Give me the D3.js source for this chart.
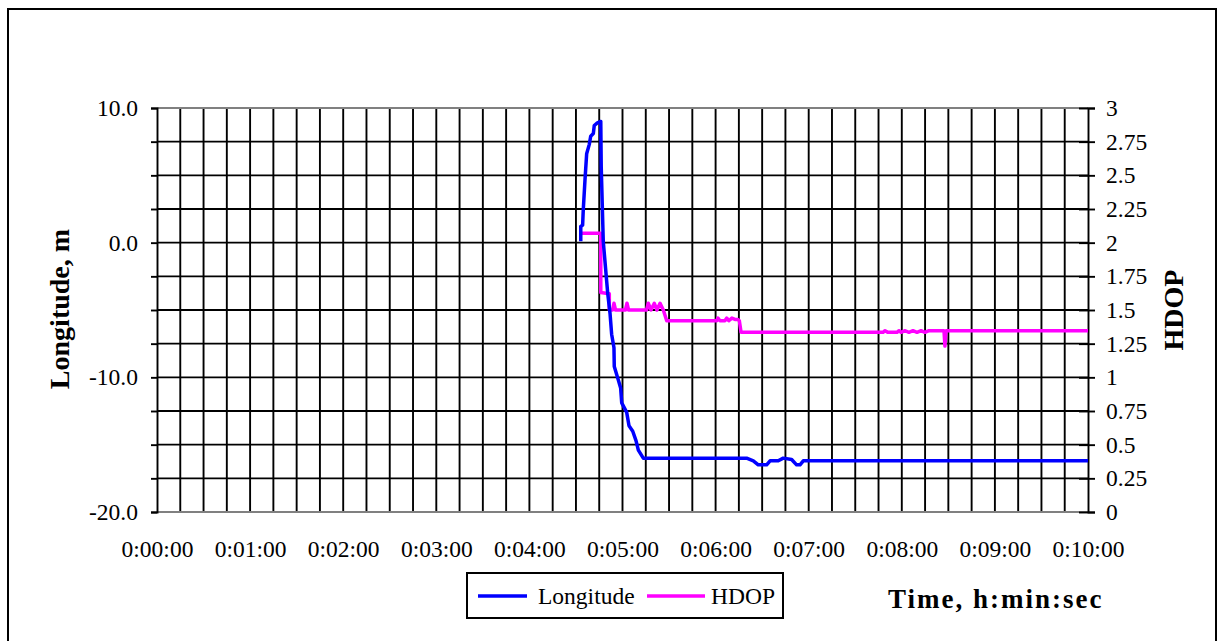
<!DOCTYPE html>
<html>
<head>
<meta charset="utf-8">
<script src="https://cdn.jsdelivr.net/npm/d3@7"></script>
<style>
  html, body { margin: 0; padding: 0; background: #fff; }
  svg { display: block; }
  text { font-family: "Liberation Serif", "Times New Roman", serif; fill: #000; }
</style>
</head>
<body>
<svg id="chart" width="1217" height="641"></svg>
<script>
// ---- Data (time in seconds from 0:00:00) ----
const lonTime = [273.1, 273.1, 274.3, 274.7, 275.8, 276.9, 278.6, 279.5, 281.2, 281.8, 283.8, 286.0, 286.3, 287.6, 290.5, 292.0, 293.0, 294.5, 294.7, 297.3, 298.8, 299.5, 302.7, 304.2, 306.6, 308.7, 310.2, 313.4, 376.8, 380.0, 384.3, 387.5, 392.9, 395.1, 400.4, 403.6, 409.0, 412.2, 414.4, 416.5, 600];
const lonValue = [0.1, 1.2, 1.3, 2.4, 4.6, 6.6, 7.3, 7.9, 8.1, 8.7, 8.9, 9.0, 5.6, 0.1, -3.8, -5.3, -6.8, -7.8, -9.2, -10.2, -10.8, -11.9, -12.6, -13.6, -14.0, -14.7, -15.4, -16.0, -16.0, -16.0, -16.2, -16.5, -16.5, -16.2, -16.2, -16.0, -16.1, -16.5, -16.5, -16.2, -16.2];

const hdopTime = [273.7, 286.0, 286.0, 291.5, 291.5, 293.6, 294.5, 295.5, 301.9, 302.9, 303.9, 315.5, 316.6, 318.4, 320.5, 322.2, 324.2, 326.3, 328.5, 360.7, 361.5, 362.8, 366.0, 367.2, 368.5, 370.5, 372.5, 374.4, 375.3, 376.4, 467.9, 469.2, 471.1, 476.9, 478.2, 479.5, 482.2, 484.6, 487.2, 489.8, 492.4, 494.9, 497.5, 507.2, 507.8, 508.5, 600];
const hdopValue = [2.07, 2.07, 1.63, 1.62, 1.50, 1.50, 1.55, 1.50, 1.50, 1.55, 1.50, 1.50, 1.55, 1.50, 1.55, 1.50, 1.55, 1.50, 1.42, 1.42, 1.44, 1.42, 1.42, 1.44, 1.42, 1.44, 1.43, 1.43, 1.42, 1.334, 1.334, 1.346, 1.334, 1.334, 1.346, 1.334, 1.346, 1.334, 1.346, 1.334, 1.346, 1.334, 1.346, 1.345, 1.232, 1.345, 1.345];

const timeTickSec = [0, 60, 120, 180, 240, 300, 360, 420, 480, 540, 600];
const timeTickLabels = ["0:00:00", "0:01:00", "0:02:00", "0:03:00", "0:04:00", "0:05:00", "0:06:00", "0:07:00", "0:08:00", "0:09:00", "0:10:00"];
const leftTicks = [-20, -17.5, -15, -12.5, -10, -7.5, -5, -2.5, 0, 2.5, 5, 7.5, 10];
const leftTickLabels = ["-20.0", "", "", "", "-10.0", "", "", "", "0.0", "", "", "", "10.0"];
const rightTicks = [0, 0.25, 0.5, 0.75, 1, 1.25, 1.5, 1.75, 2, 2.25, 2.5, 2.75, 3];
const rightTickLabels = ["0", "0.25", "0.5", "0.75", "1", "1.25", "1.5", "1.75", "2", "2.25", "2.5", "2.75", "3"];
const gridTimes = d3.range(15, 600, 15);

const seriesNames = ["Longitude", "HDOP"];
const seriesColors = ["#0000ff", "#ff00ff"];

// ---- Layout ----
const L = 157, R = 1088, T = 108, B = 512;
const svg = d3.select("#chart");

// outer frame
svg.append("rect").attr("x", 8).attr("y", 9).attr("width", 1208).attr("height", 700)
  .attr("fill", "#fff").attr("stroke", "#000").attr("stroke-width", 2);

const x = d3.scaleLinear().domain([0, 600]).range([L, R]);
const yL = d3.scaleLinear().domain([-20, 10]).range([B, T]);
const yR = d3.scaleLinear().domain([0, 3]).range([B, T]);

// gridlines
const grid = svg.append("g").attr("stroke", "#000").attr("stroke-width", 1.9);
grid.selectAll("line.v").data(gridTimes).join("line")
  .attr("x1", d => x(d)).attr("x2", d => x(d)).attr("y1", T).attr("y2", B);
grid.selectAll("line.h").data(leftTicks.filter(d => d > -20 && d < 10)).join("line")
  .attr("x1", L).attr("x2", R).attr("y1", d => yL(d)).attr("y2", d => yL(d));

// plot top/bottom border (gray)
svg.append("line").attr("x1", L).attr("x2", R).attr("y1", T).attr("y2", T)
  .attr("stroke", "#808080").attr("stroke-width", 2);
svg.append("line").attr("x1", L).attr("x2", R).attr("y1", B).attr("y2", B)
  .attr("stroke", "#808080").attr("stroke-width", 2);

// axes
const fontSize = "23.5px";
const axL = svg.append("g").attr("transform", `translate(${L},0)`)
  .call(d3.axisLeft(yL).tickValues(leftTicks).tickSize(6).tickPadding(13)
    .tickFormat((d, i) => leftTickLabels[i]));
const axR = svg.append("g").attr("transform", `translate(${R},0)`)
  .call(d3.axisRight(yR).tickValues(rightTicks).tickSize(7).tickPadding(11)
    .tickFormat((d, i) => rightTickLabels[i]));
axR.selectAll(".tick line").attr("x1", -9);
const axB = svg.append("g").attr("transform", `translate(0,${B})`)
  .call(d3.axisBottom(x).tickValues(timeTickSec).tickSize(0).tickPadding(28)
    .tickFormat((d, i) => timeTickLabels[i]));
axB.select(".domain").remove();
[axL, axR, axB].forEach(a => {
  a.selectAll("text").style("font-family", '"Liberation Serif", serif').style("font-size", fontSize).attr("fill", "#000");
  a.selectAll("line").attr("stroke", "#000").attr("stroke-width", 1.9);
  a.select(".domain").attr("stroke", "#000").attr("stroke-width", 1.9);
});

// series
const lineL = d3.line().x(d => x(d[0])).y(d => yL(d[1]));
const lineR = d3.line().x(d => x(d[0])).y(d => yR(d[1]));
svg.append("path").datum(hdopTime.map((t, i) => [t, hdopValue[i]]))
  .attr("d", lineR).attr("fill", "none").attr("stroke", seriesColors[1]).attr("stroke-width", 3.5)
  .attr("stroke-linejoin", "round");
svg.append("path").datum(lonTime.map((t, i) => [t, lonValue[i]]))
  .attr("d", lineL).attr("fill", "none").attr("stroke", seriesColors[0]).attr("stroke-width", 3.5)
  .attr("stroke-linejoin", "round");

// axis titles
svg.append("text").attr("transform", "translate(69,309) rotate(-90)")
  .attr("text-anchor", "middle").style("font-size", "28px").style("font-weight", "bold")
  .text("Longitude, m");
svg.append("text").attr("transform", "translate(1183,310) rotate(-90)")
  .attr("text-anchor", "middle").style("font-size", "28px").style("font-weight", "bold")
  .text("HDOP");
svg.append("text").attr("x", 888).attr("y", 608)
  .style("font-size", "27px").style("font-weight", "bold").style("letter-spacing", "2px")
  .text("Time, h:min:sec");

// legend
const lg = svg.append("g");
lg.append("rect").attr("x", 467).attr("y", 573).attr("width", 316).attr("height", 45)
  .attr("fill", "#fff").attr("stroke", "#000").attr("stroke-width", 2);
const legendItems = [{x1: 478, x2: 527, tx: 538}, {x1: 647, x2: 705, tx: 711}];
legendItems.forEach((it, i) => {
  lg.append("line").attr("x1", it.x1).attr("x2", it.x2).attr("y1", 596).attr("y2", 596)
    .attr("stroke", seriesColors[i]).attr("stroke-width", 3.5);
  lg.append("text").attr("x", it.tx).attr("y", 604).style("font-size", fontSize).text(seriesNames[i]);
});
</script>
</body>
</html>
